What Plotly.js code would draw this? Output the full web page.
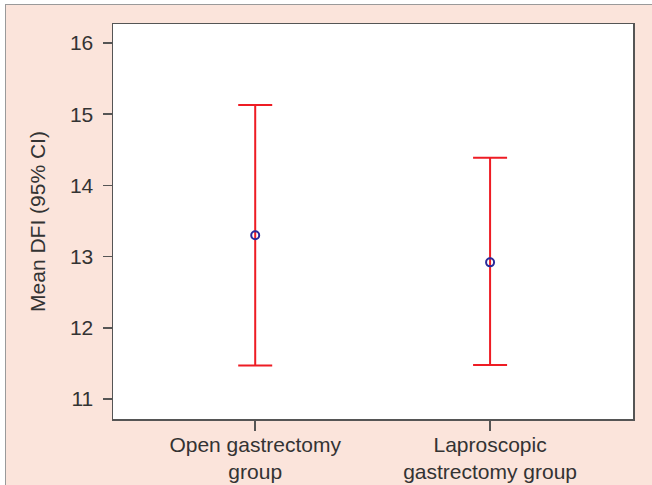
<!DOCTYPE html>
<html>
<head>
<meta charset="utf-8">
<script src="https://cdn.plot.ly/plotly-3.0.1.min.js"></script>
<style>
  html, body { margin: 0; padding: 0; background: #ffffff; }
  #wrap { position: relative; width: 652px; height: 485px; overflow: hidden; }
  #chart { position: absolute; left: 0; top: 0; width: 652px; height: 485px; }
  #frame { position: absolute; left: 0; top: 0; width: 652px; height: 485px; pointer-events: none;
           box-sizing: border-box; border-left: 6px solid #ffffff; border-top: 5px solid #ffffff; }
  #frame2 { position: absolute; left: 5px; top: 4px; width: 660px; height: 500px; pointer-events: none;
            box-sizing: border-box; border-left: 1.5px solid #9a9a9a; border-top: 1.5px solid #9a9a9a; }
</style>
</head>
<body>
<div id="wrap">
  <div id="chart"></div>
  <div id="frame"></div>
  <div id="frame2"></div>
</div>
<script>
const categories = ["Open gastrectomy<br>group", "Laproscopic<br>gastrectomy group"];
const means = [13.30, 12.92];
const upperCI = [15.13, 14.39];
const lowerCI = [11.47, 11.48];
const yTicks = [11, 12, 13, 14, 15, 16];

const errPlus = means.map((m, i) => upperCI[i] - m);
const errMinus = means.map((m, i) => m - lowerCI[i]);

const trace = {
  x: [0, 1],
  y: means,
  type: 'scatter',
  mode: 'markers',
  marker: { symbol: 'circle-open', size: 8, color: '#2a2a9a', line: { width: 2, color: '#2a2a9a' } },
  error_y: { type: 'data', symmetric: false, array: errPlus, arrayminus: errMinus,
             color: '#ee1c24', thickness: 2, width: 17 },
  showlegend: false,
  hoverinfo: 'skip'
};

const layout = {
  width: 652, height: 485,
  paper_bgcolor: '#fbe4db',
  plot_bgcolor: '#ffffff',
  margin: { l: 113, r: 19, t: 24, b: 66 },
  font: { family: 'Liberation Sans, Arial, sans-serif', size: 21, color: '#333333' },
  xaxis: {
    range: [-0.6055, 1.6085],
    tickvals: [0, 1], ticktext: categories,
    showgrid: false, zeroline: false,
    showline: true, mirror: true, linecolor: '#555555', linewidth: 1.5,
    ticks: 'outside', ticklen: 10, tickwidth: 1.5, tickcolor: '#555555',
    ticklabelstandoff: -4,
    tickfont: { size: 21, color: '#333333' }
  },
  yaxis: {
    range: [10.72, 16.267],
    tickvals: yTicks,
    showgrid: false, zeroline: false,
    showline: true, mirror: true, linecolor: '#555555', linewidth: 1.5,
    ticks: 'outside', ticklen: 9, tickwidth: 1.5, tickcolor: '#555555',
    ticklabelstandoff: 5,
    tickfont: { size: 21, color: '#333333' },
    title: { text: 'Mean DFI (95% CI)', font: { size: 21, color: '#333333' }, standoff: 18 }
  }
};

Plotly.newPlot('chart', [trace], layout, { displayModeBar: false, staticPlot: true });
</script>
</body>
</html>
